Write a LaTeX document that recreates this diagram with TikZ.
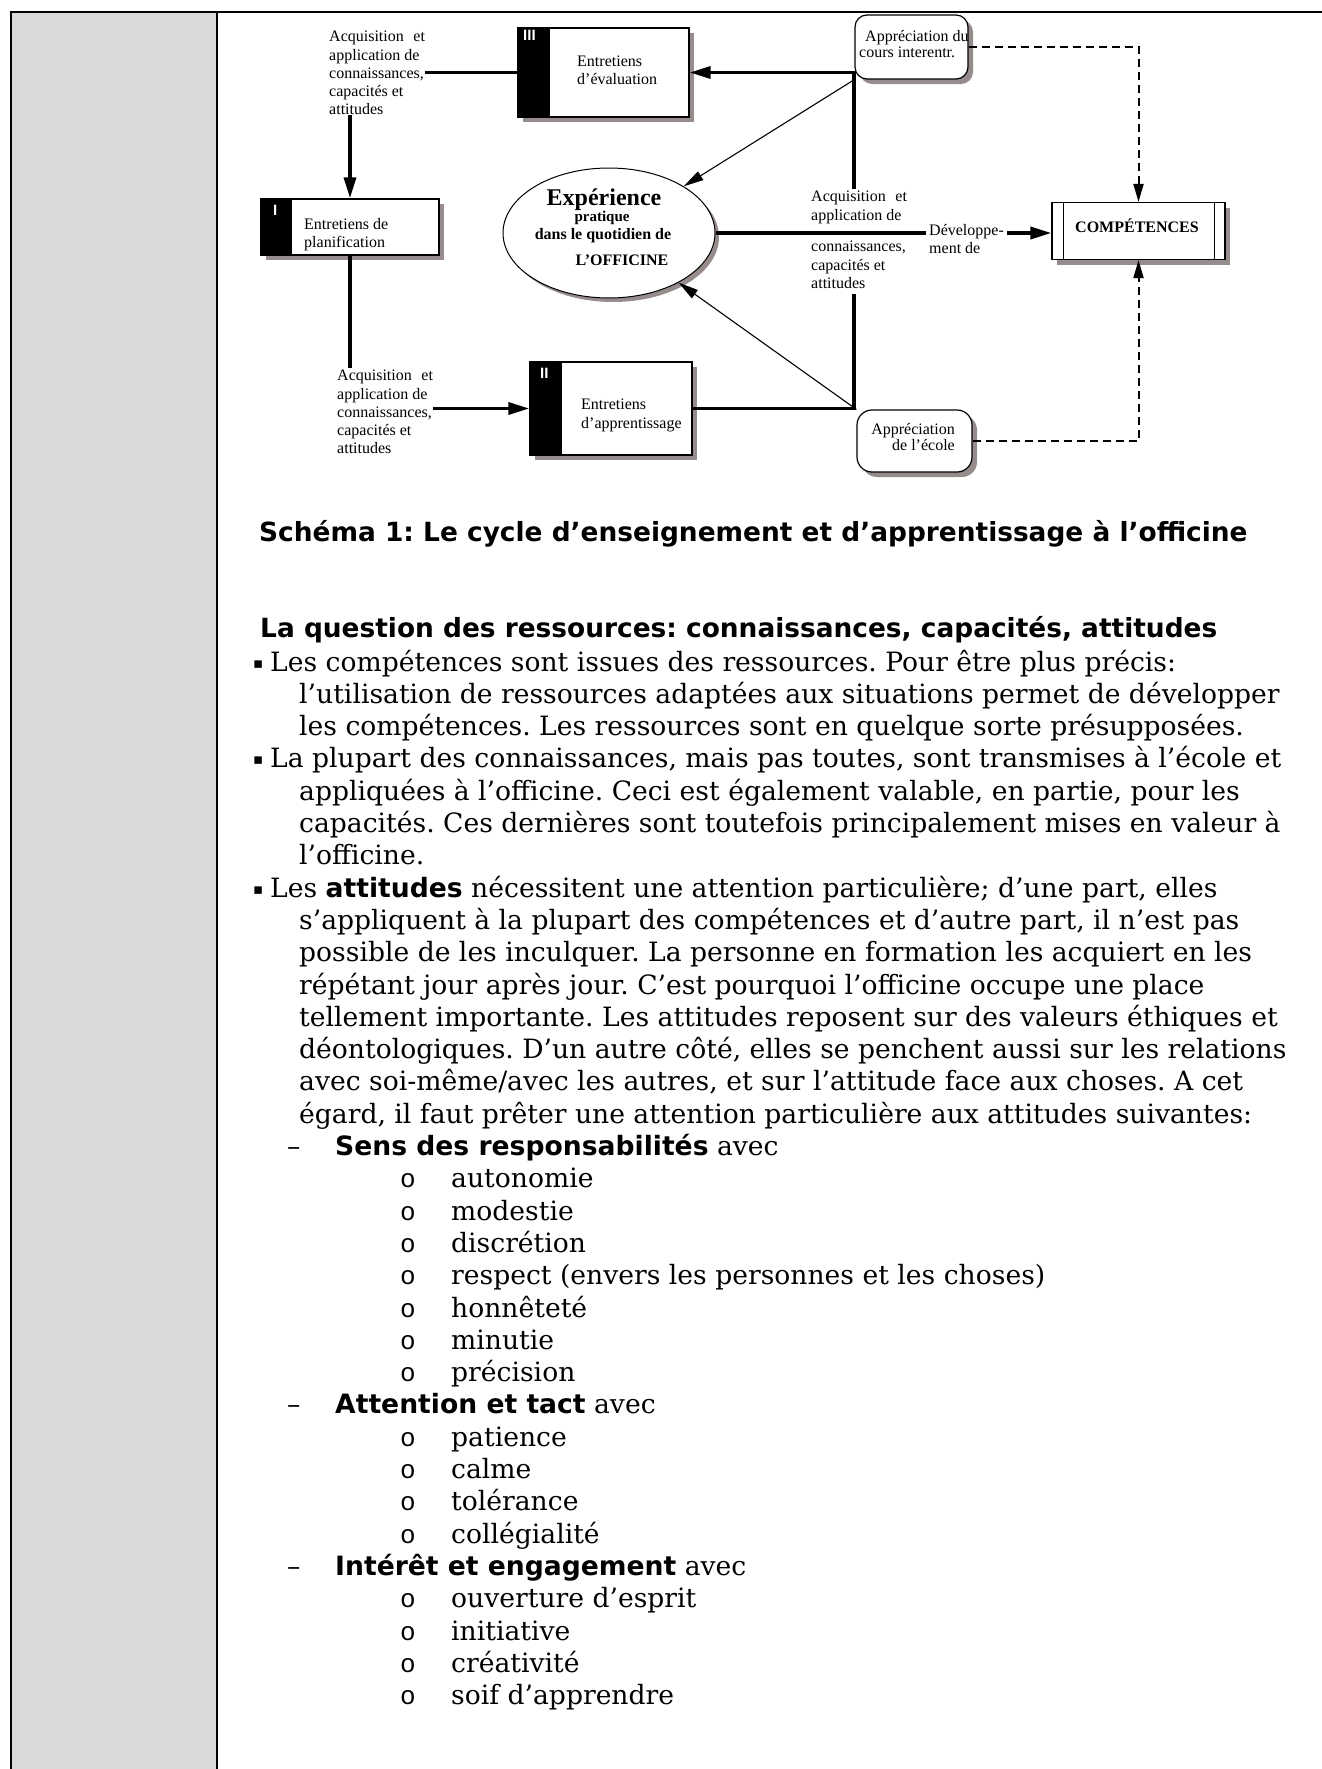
\documentclass[tikz,border=0pt]{standalone}
\usepackage{fontspec}
\setmainfont{Liberation Serif}
\newfontfamily\bodyf{DejaVu Serif}
\newfontfamily\sansb{DejaVu Sans}
\newfontfamily\monof{Liberation Mono}
\newfontfamily\arialf{Liberation Sans}
\usetikzlibrary{arrows.meta,shapes.geometric,shadows}
\definecolor{graycol}{RGB}{217,217,217}
\definecolor{shadowc}{RGB}{150,140,140}
\newcommand\hbold[1]{{\sansb\bfseries #1}}
\frenchspacing
\begin{document}
\begin{tikzpicture}[x=1pt,y=-1pt,
 lbl/.style={font=\fontsize{16}{18.3}\selectfont, inner sep=0pt},
 mlbl/.style={lbl, align=left, anchor=north west},
 entbox/.style={draw, line width=1.4pt, fill=white, inner sep=0pt, drop shadow={shadow xshift=5pt,shadow yshift=-5pt,fill=shadowc,opacity=1}},
 rbox/.style={entbox, line width=1.2pt, rounded corners=12pt},
 num/.style={font=\arialf\bfseries\fontsize{15}{16}\selectfont, text=white, inner sep=0pt, anchor=north west},
 thk/.style={line width=3.5pt},
 thn/.style={line width=1.1pt},
 dsh/.style={line width=2pt, dash pattern=on 8pt off 5pt},
 arrk/.style={-{Triangle[length=21pt,width=12pt]}},
 arrn/.style={-{Triangle[length=20pt,width=10pt]}},
 arrd/.style={-{Triangle[length=18pt,width=10pt]}},
 ext/.style={inner sep=0pt, anchor=base},
 bt/.style={font=\bodyf\fontsize{26.6}{32.3}\selectfont, anchor=base west, inner sep=0pt},
 hd/.style={font=\sansb\bfseries\fontsize{26.4}{30}\selectfont, anchor=base west, inner sep=0pt},
 bul/.style={font=\sansb\fontsize{15}{15}\selectfont, anchor=base west, inner sep=0pt},
 mk/.style={font=\monof\fontsize{26}{26}\selectfont, anchor=base west, inner sep=0pt}]
\useasboundingbox (0,0) rectangle (1322,1769);
\fill[white] (0,0) rectangle (1322,1769);
% frame
\fill[graycol] (11,12) rectangle (217,1769);
\draw[line width=1.7pt] (1322,12) -- (11,12) -- (11,1769);
\draw[line width=1.7pt] (217,12) -- (217,1769);

% ---------- diagram boxes ----------
\node[entbox, minimum width=171pt, minimum height=89pt] (b3) at (603.5,72.5) {};
\fill (b3.north west) rectangle ([xshift=33pt]b3.south west);
\node[num] (n3) at (523,30) {III};
\node[lbl, anchor=base west] (t3a) at (577,66.5) {Entretiens};
\node[lbl, anchor=base west] (t3b) at (577,84.5) {d’évaluation};

\node[entbox, minimum width=178pt, minimum height=56pt] (b1) at (350,227) {};
\fill (b1.north west) rectangle ([xshift=32pt]b1.south west);
\node[num] (n1) at (273,205) {I};
\node[lbl, anchor=base west] (t1a) at (304,229.5) {Entretiens de};
\node[lbl, anchor=base west] (t1b) at (304,247.5) {planification};

\node[entbox, minimum width=162pt, minimum height=93pt] (b2) at (611,408.5) {};
\fill (b2.north west) rectangle ([xshift=33pt]b2.south west);
\node[num] (n2) at (540,368) {II};
\node[lbl, anchor=base west] (t2a) at (581,409.5) {Entretiens};
\node[lbl, anchor=base west] (t2b) at (581,428.5) {d’apprentissage};

\node[ellipse, draw, line width=1pt, fill=white, minimum width=212pt, minimum height=130pt, inner sep=0pt, drop shadow={shadow xshift=4pt,shadow yshift=-4pt,fill=shadowc,opacity=1}] (ell) at (609,233) {};
\node[ext, font=\bfseries\fontsize{24}{26}\selectfont] (ex1) at (604,205) {Expérience};
\node[ext, font=\bfseries\fontsize{15}{17}\selectfont] (ex2) at (602,221) {pratique};
\node[ext, font=\bfseries\fontsize{16}{18}\selectfont] (ex3) at (603,239) {dans le quotidien de};
\node[ext, font=\bfseries\fontsize{16}{18}\selectfont] (ex4) at (622,265) {L’OFFICINE};

\node[entbox, line width=1.2pt, minimum width=173pt, minimum height=57pt] (comp) at (1138.5,231) {};
\draw[line width=1.1pt] ([xshift=12pt]comp.north west) -- ([xshift=12pt]comp.south west);
\draw[line width=1.1pt] ([xshift=-11pt]comp.north east) -- ([xshift=-11pt]comp.south east);
\node[ext, font=\bfseries\fontsize{16}{18}\selectfont] (compt) at (1137,232.5) {COMPÉTENCES};

\node[rbox, minimum width=113pt, minimum height=64pt] (cours) at (911.5,47) {};
\node[rbox, rounded corners=15pt, minimum width=115pt, minimum height=62pt] (ecole) at (914.5,441) {};

% ---------- labels ----------
\node[mlbl] (tl) at (329,28.7) {\strut Acquisition\hspace{0.6em}et\\application de\\connaissances,\\capacités et\\attitudes};
\node[mlbl] (bl) at (337,367.7) {\strut Acquisition\hspace{0.6em}et\\application de\\connaissances,\\capacités et\\attitudes};
\node[mlbl] (midA) at (811,188.7) {\strut Acquisition\hspace{0.6em}et\\application de};
\node[mlbl] (midB) at (811,238.7) {\strut connaissances,\\capacités et\\attitudes\strut};

\coordinate (jT) at (854,72.5);
\coordinate (jB) at (854,408.5);

% ---------- connectors ----------
\draw[thk] (tl.east |- b3.west) -- (b3.west);
\draw[thk, arrk] (tl.south -| b1.north) -- (b1.north);
\draw[thk] (b1.south) -- (b1.south |- bl.north);
\draw[thk, arrk] (bl.east |- b2.west) -- (b2.west);
\draw[thk] (b2.east) -- (jB) -- (jB |- midB.south);
\draw[thk, arrk] (jT |- midA.north) -- (jT) -- (b3.east);
\draw[thk, arrk] (ell.east) -- (ell.east -| comp.west);
\node[lbl, fill=white, align=left, anchor=north west, inner xsep=3pt, inner ysep=0pt, font=\fontsize{16}{18}\selectfont] (dev) at (926,222.4) {\strut Développe-\\ment de};
\draw[thn, arrn] (cours.south west) -- (ell);
\draw[thn, arrn] (ecole.north west) -- (ell);
\draw[dsh, arrd] (cours.east) -- (cours.east -| comp.north) -- (comp.north);
\draw[dsh, arrd] (ecole.east) -- (ecole.east -| comp.south) -- (comp.south);

\node[lbl, anchor=base west] (ca) at (865,41.5) {Appréciation du};
\node[lbl, anchor=base west] (cb) at (859,57.5) {cours interentr.};
\node[lbl, anchor=base east] (ea) at (955,434.5) {Appréciation};
\node[lbl, anchor=base east] (eb) at (955,450.5) {de l’école};

% ---------- text ----------
\node[hd] (title) at (259,541) {Schéma 1: Le cycle d’enseignement et d’apprentissage à l’officine};
\node[hd] (head) at (260,637) {La question des ressources: connaissances, capacités, attitudes};

\node[bul] (u0) at (253,668) {▪};
\node[bt] (p0) at (270,671) {Les compétences sont issues des ressources. Pour être plus précis:};
\node[bt] (p1) at (299,703.3) {l’utilisation de ressources adaptées aux situations permet de développer};
\node[bt] (p2) at (299,735.6) {les compétences. Les ressources sont en quelque sorte présupposées.};
\node[bul] (u3) at (253,764.9) {▪};
\node[bt] (p3) at (270,767.9) {La plupart des connaissances, mais pas toutes, sont transmises à l’école et};
\node[bt] (p4) at (299,800.2) {appliquées à l’officine. Ceci est également valable, en partie, pour les};
\node[bt] (p5) at (299,832.5) {capacités. Ces dernières sont toutefois principalement mises en valeur à};
\node[bt] (p6) at (299,864.8) {l’officine.};
\node[bul] (u7) at (253,894.1) {▪};
\node[bt] (p7) at (270,897.1) {Les \hbold{attitudes} nécessitent une attention particulière; d’une part, elles};
\node[bt] (p8) at (299,929.4) {s’appliquent à la plupart des compétences et d’autre part, il n’est pas};
\node[bt] (p9) at (299,961.7) {possible de les inculquer. La personne en formation les acquiert en les};
\node[bt] (p10) at (299,994.0) {répétant jour après jour. C’est pourquoi l’officine occupe une place};
\node[bt] (p11) at (299,1026.3) {tellement importante. Les attitudes reposent sur des valeurs éthiques et};
\node[bt] (p12) at (299,1058.6) {déontologiques. D’un autre côté, elles se penchent aussi sur les relations};
\node[bt] (p13) at (299,1090.9) {avec soi-même/avec les autres, et sur l’attitude face aux choses. A cet};
\node[bt] (p14) at (299,1123.2) {égard, il faut prêter une attention particulière aux attitudes suivantes:};

\node[bt] (d15) at (287,1155.5) {–};
\node[bt] (p15) at (335,1155.5) {\hbold{Sens des responsabilités} avec};
\node[mk] (m16) at (400,1187.8) {o}; \node[bt] (p16) at (451,1187.8) {autonomie};
\node[mk] (m17) at (400,1220.1) {o}; \node[bt] (p17) at (451,1220.1) {modestie};
\node[mk] (m18) at (400,1252.4) {o}; \node[bt] (p18) at (451,1252.4) {discrétion};
\node[mk] (m19) at (400,1284.7) {o}; \node[bt] (p19) at (451,1284.7) {respect (envers les personnes et les choses)};
\node[mk] (m20) at (400,1317.0) {o}; \node[bt] (p20) at (451,1317.0) {honnêteté};
\node[mk] (m21) at (400,1349.3) {o}; \node[bt] (p21) at (451,1349.3) {minutie};
\node[mk] (m22) at (400,1381.6) {o}; \node[bt] (p22) at (451,1381.6) {précision};
\node[bt] (d23) at (287,1413.9) {–};
\node[bt] (p23) at (335,1413.9) {\hbold{Attention et tact} avec};
\node[mk] (m24) at (400,1446.2) {o}; \node[bt] (p24) at (451,1446.2) {patience};
\node[mk] (m25) at (400,1478.5) {o}; \node[bt] (p25) at (451,1478.5) {calme};
\node[mk] (m26) at (400,1510.8) {o}; \node[bt] (p26) at (451,1510.8) {tolérance};
\node[mk] (m27) at (400,1543.1) {o}; \node[bt] (p27) at (451,1543.1) {collégialité};
\node[bt] (d28) at (287,1575.4) {–};
\node[bt] (p28) at (335,1575.4) {\hbold{Intérêt et engagement} avec};
\node[mk] (m29) at (400,1607.7) {o}; \node[bt] (p29) at (451,1607.7) {ouverture d’esprit};
\node[mk] (m30) at (400,1640.0) {o}; \node[bt] (p30) at (451,1640.0) {initiative};
\node[mk] (m31) at (400,1672.3) {o}; \node[bt] (p31) at (451,1672.3) {créativité};
\node[mk] (m32) at (400,1704.6) {o}; \node[bt] (p32) at (451,1704.6) {soif d’apprendre};
\end{tikzpicture}
\end{document}
